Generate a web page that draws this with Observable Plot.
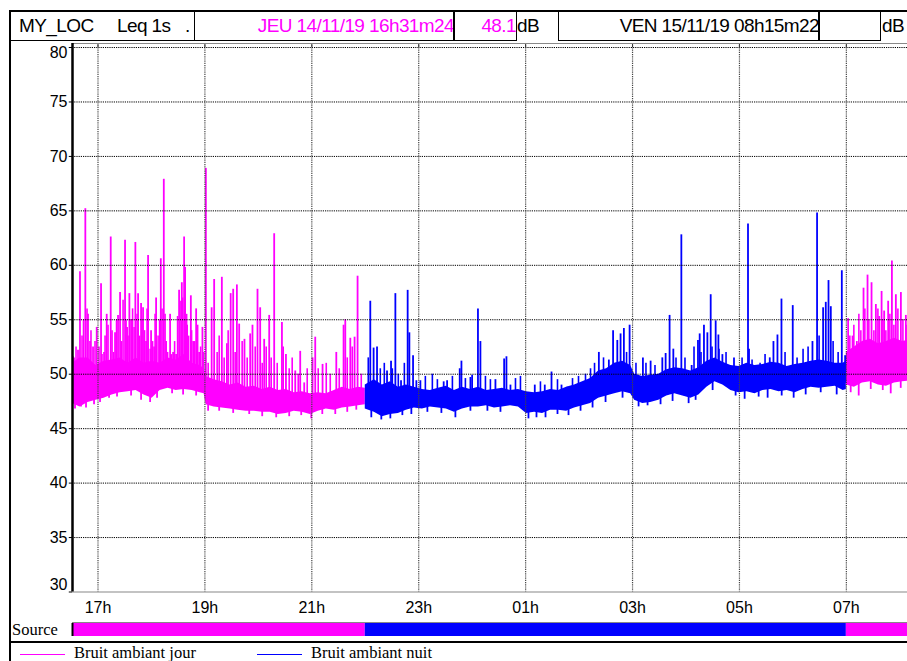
<!DOCTYPE html>
<html><head><meta charset="utf-8">
<script src="https://cdn.jsdelivr.net/npm/d3@7"></script>
<script src="https://cdn.jsdelivr.net/npm/@observablehq/plot@0.6"></script>
<style>
html,body{margin:0;padding:0;background:#fff;overflow:hidden;width:907px;height:661px;}
#wrap{position:relative;width:907px;height:661px;overflow:hidden;font-family:"Liberation Sans",Arial,sans-serif;}
.ln{position:absolute;background:#000;}
.box{position:absolute;box-sizing:border-box;top:10px;height:31px;border:1px solid #000;border-top:2px solid #000;background:#fff;overflow:hidden;}
.htxt{position:absolute;top:11px;height:30px;line-height:30px;font-size:19px;letter-spacing:-0.6px;white-space:nowrap;}
.serif{position:absolute;font-family:"Liberation Serif","Times New Roman",serif;font-size:16.5px;white-space:nowrap;}
#main{position:absolute;left:0;top:0;width:913px;}
#src{position:absolute;left:0;top:621px;width:913px;}
#main svg,#src svg{max-width:none !important;}
</style></head>
<body><div id="wrap">
<div id="main"></div>
<div id="src"></div>
<div class="ln" style="left:9px;top:10px;width:898px;height:2px;"></div>
<div class="box" style="left:9px;width:186px;border-left:2px solid #000;"></div>
<div class="htxt" style="left:19px;">MY_LOC</div>
<div class="htxt" style="left:117px;">Leq 1s</div>
<div class="htxt" style="left:185px;">.</div>
<div class="box" style="left:194px;width:260px;"></div>
<div class="htxt" style="left:194px;width:260px;text-align:right;color:#ff00ff;">JEU 14/11/19 16h31m24</div>
<div class="box" style="left:453px;width:64px;border-left:2px solid #000;"></div>
<div class="htxt" style="left:453px;width:63px;text-align:right;color:#ff00ff;">48.1</div>
<div class="htxt" style="left:517px;">dB</div>
<div class="box" style="left:558px;width:261px;"></div>
<div class="htxt" style="left:558px;width:261px;text-align:right;">VEN 15/11/19 08h15m22</div>
<div class="box" style="left:818px;width:63px;border-left:2px solid #000;"></div>
<div class="htxt" style="left:882px;">dB</div>
<div class="ln" style="left:9px;top:10px;width:2px;height:651px;"></div>
<div class="ln" style="left:9px;top:641px;width:898px;height:1.5px;"></div>
<div class="serif" style="left:12px;top:620px;">Source</div>
<div id="legend"></div>
</div>
<script>
// ---- data ----
const timeTicks = [17, 19, 21, 23, 25, 27, 29, 31];
const timeTickLabels = ["17h", "19h", "21h", "23h", "01h", "03h", "05h", "07h"];
const levelTicks = [30, 35, 40, 45, 50, 55, 60, 65, 70, 75, 80];
const startHour = 16.523;   // JEU 14/11/19 16h31m24
const endHour = 32.256;     // VEN 15/11/19 08h15m22
const periodNames = ["Bruit ambiant jour", "Bruit ambiant nuit"];
const periodStart = [16.523, 22.0, 31.0];
const periodEnd = [22.0, 31.0, 32.256];
const periodKind = [0, 1, 0];

// dense band (lower / upper envelope) — day 1
const jour1Time = [16.523,16.663,16.813,16.963,17.113,17.263,17.413,17.562,17.712,17.862,18.012,18.162,18.311,18.461,18.611,18.761,18.911,18.986,19.023,19.173,19.323,19.472,19.622,19.772,19.922,20.072,20.222,20.371,20.521,20.671,20.821,20.971,21.121,21.271,21.420,21.570,21.720,21.870,22.0];
const jour1Low = [47.3,47.0,47.4,47.6,47.8,48.1,48.3,48.4,48.5,48.1,47.8,48.5,48.7,48.5,48.6,48.5,48.3,48.2,47.2,47.0,46.9,46.8,46.7,46.6,46.6,46.5,46.5,46.3,46.4,46.6,46.5,46.3,46.6,46.8,46.7,46.9,47.0,47.1,47.2];
const jour1High = [51.0,51.5,51.5,50.8,51.2,51.3,51.5,51.0,51.5,51.0,51.2,51.0,51.5,51.3,51.8,51.0,50.8,50.5,49.8,49.5,49.3,49.0,49.2,48.8,48.9,48.6,48.8,48.5,48.6,48.3,48.4,48.2,48.3,48.2,48.5,48.8,48.6,48.8,48.7];
// night
const nuitTime = [22.0,22.169,22.319,22.469,22.619,22.768,22.918,23.068,23.218,23.368,23.518,23.668,23.818,23.968,24.117,24.267,24.417,24.567,24.717,24.866,25.016,25.166,25.316,25.466,25.616,25.765,25.915,26.065,26.215,26.364,26.514,26.664,26.814,26.964,27.04,27.19,27.34,27.49,27.64,27.79,27.94,28.09,28.24,28.39,28.54,28.69,28.84,28.99,29.14,29.29,29.44,29.59,29.74,29.89,30.04,30.19,30.34,30.49,30.64,30.79,30.94,31.0];
const nuitLow = [46.8,46.5,46.1,46.3,46.4,46.7,46.9,46.8,47.0,46.9,46.8,46.5,46.8,47.0,47.0,47.1,46.9,47.0,47.1,47.0,46.4,46.5,46.4,46.7,46.7,46.6,46.9,47.1,47.3,47.8,48.0,48.2,48.4,48.2,47.6,47.3,47.4,47.6,48.0,48.2,48.0,47.8,48.1,48.8,49.3,49.0,48.5,48.3,48.4,48.2,48.5,48.6,48.4,48.5,48.3,48.6,48.8,48.7,48.8,48.9,48.5,48.6];
const nuitHigh = [49.0,49.5,49.0,49.3,48.8,49.0,48.8,48.6,48.5,48.7,48.9,48.5,48.8,48.6,48.8,48.5,48.6,48.7,48.5,48.6,48.4,48.3,48.4,48.6,48.5,48.8,49.0,49.3,49.6,50.3,50.5,51.0,51.2,50.8,50.0,49.8,49.9,50.0,50.4,50.6,50.5,50.3,50.6,51.2,51.5,51.1,50.8,50.7,51.0,50.8,50.9,51.1,51.0,50.7,50.9,51.0,51.2,51.3,51.2,51.0,51.0,51.2];
// day 2
const jour2Time = [31.0,31.15,31.30,31.45,31.60,31.75,31.90,32.05,32.256];
const jour2Low = [49.0,48.8,49.2,49.3,49.0,48.9,49.2,49.3,49.4];
const jour2High = [52.0,52.5,53.0,53.2,52.8,53.0,53.3,53.0,53.2];

// major peaks (Leq 1s events)
const spikeTime = [16.551,16.626,16.663,16.763,16.813,16.851,16.907,16.976,17.057,17.113,17.163,17.238,17.319,17.375,17.413,17.506,17.544,17.587,17.619,17.699,17.750,17.806,17.843,17.899,17.937,17.993,18.049,18.087,18.175,18.231,18.274,18.349,18.405,18.461,18.517,18.568,18.611,18.630,18.667,18.737,18.780,18.836,18.892,18.954,
19.018,19.126,19.173,19.317,19.411,19.482,19.529,19.598,19.641,19.740,19.847,19.890,19.984,20.034,20.109,20.203,20.296,20.441,20.516,20.690,20.783,20.858,21.014,21.064,21.201,21.458,21.594,21.626,21.720,21.800,21.856,
22.094,22.156,22.220,22.407,22.482,22.563,22.669,22.793,22.825,22.894,22.956,23.031,23.467,23.531,23.767,23.799,23.967,23.999,24.108,24.154,24.435,24.598,24.641,24.716,25.171,25.358,25.484,25.671,25.778,
26.370,26.557,26.636,26.715,26.776,26.838,26.945,27.194,27.338,27.557,27.619,27.693,27.763,27.913,28.106,28.224,28.256,28.336,28.400,28.462,28.555,28.606,28.681,28.898,
29.160,29.179,29.567,29.636,29.711,29.786,29.997,30.366,30.452,30.565,30.615,30.666,30.709,30.915,30.977,
31.033,31.116,31.196,31.321,31.396,31.471,31.552,31.614,31.659,31.707,31.782,31.852,31.926,32.020,32.113];
const spikePeak = [51.5,52.2,59.4,65.2,55.5,53.0,52.5,54.3,58.3,52.0,55.5,62.6,53.8,55.4,57.5,62.3,54.3,57.4,55.0,62.1,57.4,56.5,56.1,53.0,60.9,54.0,52.5,57.0,60.6,67.9,53.0,55.5,52.0,51.8,57.7,58.4,62.6,59.8,54.5,57.2,53.0,56.0,52.0,54.3,
68.9,56.1,58.7,58.9,52.8,57.4,57.8,58.2,54.6,53.2,53.7,54.5,57.8,56.1,53.2,55.4,62.9,54.75,51.8,50.3,52.1,49.2,51.5,53.4,50.9,52.0,54.5,55.0,53.3,53.4,59.0,
56.7,52.4,52.5,50.3,51.2,57.4,49.4,57.7,53.8,51.7,49.4,49.4,49.3,49.4,50.5,51.2,49.7,49.9,56.0,53.0,49.5,51.4,51.6,49.0,49.0,49.0,50.2,49.0,48.8,
52.0,51.3,54.0,53.1,53.7,54.2,54.5,51.5,51.2,51.5,51.9,55.4,52.3,62.8,50.8,53.1,53.7,54.5,53.8,57.3,54.9,53.6,51.8,51.5,
63.8,52.3,51.5,53.0,53.6,56.9,56.3,53.0,64.8,56.1,56.6,58.6,56.2,59.5,51.7,
55.1,53.5,53.0,57.9,59.1,58.4,56.4,55.3,57.6,55.8,56.7,60.4,57.3,57.5,55.4];

// minor peaks (dense texture of the trace)
const minorTime = [16.532,16.589,16.701,16.729,16.795,16.869,16.944,17.019,17.075,17.132,17.188,17.263,17.291,17.347,17.441,17.469,17.525,17.562,17.647,17.675,17.731,17.778,17.824,17.871,17.918,17.975,18.021,18.068,18.124,18.152,18.199,18.255,18.302,18.377,18.433,18.489,18.536,18.583,18.658,18.695,18.751,18.808,18.864,18.920,18.976,
19.061,19.229,19.267,19.360,19.435,19.566,19.697,19.791,19.941,20.072,20.147,20.240,20.353,20.465,20.577,20.633,20.746,20.914,21.120,21.270,21.345,21.513,21.663,21.757,21.925,
22.056,22.281,22.356,22.506,22.618,22.731,23.124,23.255,23.349,23.630,23.873,24.248,24.341,24.810,24.903,25.277,25.596,25.877,25.989,26.120,26.214,26.289,26.457,26.888,
27.064,27.251,27.420,27.813,27.981,28.150,28.281,28.487,28.618,28.749,29.049,29.236,29.386,29.479,29.853,30.078,30.190,30.284,30.490,30.752,30.846,
31.065,31.140,31.234,31.271,31.346,31.421,31.515,31.590,31.683,31.739,31.814,31.889,31.964,32.058,32.133];
const minorPeak = [51.6,52.5,53.5,55.0,56.0,54.0,53.0,52.5,51.8,53.5,54.5,54.0,52.0,55.0,53.0,56.8,55.0,53.5,56.0,54.3,55.5,53.5,55.0,54.0,56.0,52.3,53.0,55.5,53.5,55.0,56.0,55.5,52.0,51.8,53.0,55.3,56.7,57.0,55.5,53.5,54.0,53.0,54.5,52.5,52.0,
51.0,52.0,53.5,51.5,54.0,52.0,53.0,51.5,52.5,51.0,52.5,51.5,51.0,52.5,50.5,51.5,50.0,50.5,50.5,51.0,50.0,50.5,51.5,52.5,50.0,
51.5,50.5,51.0,50.5,50.0,51.0,49.8,50.0,49.5,49.8,49.6,49.8,49.5,49.6,49.8,49.3,49.5,49.6,49.8,50.0,50.5,51.0,51.5,52.0,
51.0,51.0,50.8,51.5,51.5,52.5,52.0,52.5,52.3,52.0,51.5,51.3,51.0,51.8,52.0,51.5,52.3,52.5,53.5,53.0,52.0,
53.5,54.5,55.5,54.0,56.0,55.0,54.0,56.0,55.0,54.0,55.5,54.5,56.0,55.0,54.5];

// lowest readings (dips below the dense band)
const dipTime = [16.570,16.682,16.776,16.926,17.038,17.207,17.356,17.619,17.806,17.975,18.105,18.386,18.592,18.836,
19.060,19.267,19.529,19.829,20.072,20.334,20.577,20.802,20.990,21.196,21.439,21.663,21.832,
22.113,22.300,22.469,22.694,22.862,23.162,23.424,23.686,23.967,24.285,24.529,25.053,25.203,25.372,25.596,25.802,26.027,26.252,26.495,26.813,
27.113,27.281,27.524,27.749,28.049,28.180,28.498,28.928,29.097,29.359,29.527,29.790,30.014,30.239,30.520,30.819,
31.081,31.231,31.456,31.681,31.830,32.017];
const dipLevel = [46.8,47.0,46.9,47.2,47.4,47.8,47.9,48.0,47.6,47.4,47.8,48.2,48.1,48.0,
46.6,46.6,46.4,46.3,46.1,46.0,46.1,46.2,45.9,46.3,46.3,46.5,46.7,
46.0,45.8,45.9,46.2,46.3,46.5,46.4,46.0,46.6,46.6,46.5,45.9,46.0,46.0,46.3,46.2,46.6,46.9,47.4,47.8,
47.0,47.1,47.2,47.5,47.3,47.6,48.5,48.0,47.7,47.9,47.8,48.0,47.8,48.1,48.3,48.1,
48.3,48.0,48.6,48.5,48.2,48.7];

// ---- build ----
const colors = ["#ff00ff", "#0000ff"];
const rows = (t, lo, hi) => t.map((d, i) => ({t: d, lo: lo[i], hi: hi[i]}));
const jour1 = rows(jour1Time, jour1Low, jour1High);
const nuit = rows(nuitTime, nuitLow, nuitHigh);
const jour2 = rows(jour2Time, jour2Low, jour2High);
const allBand = [...jour1, ...nuit.slice(1), ...jour2.slice(1)];
const bis = d3.bisector(d => d.t).left;
function lowAt(t) {
  const i = Math.max(1, Math.min(allBand.length - 1, bis(allBand, t)));
  const a = allBand[i - 1], b = allBand[i];
  const f = (t - a.t) / (b.t - a.t);
  return a.lo + (b.lo - a.lo) * f + 0.6;
}
function kindAt(t) {
  for (let k = 0; k < periodStart.length; k++) if (t >= periodStart[k] && t < periodEnd[k]) return periodKind[k];
  return 0;
}
const spikes = spikeTime.map((t, i) => ({t, peak: spikePeak[i], base: lowAt(t), kind: kindAt(t)}));
const minors = minorTime.map((t, i) => ({t, peak: minorPeak[i], base: lowAt(t), kind: kindAt(t)}));
const dips = dipTime.map((t, i) => ({t, low: dipLevel[i], top: lowAt(t) + 0.5, kind: kindAt(t)}));

const yTop = 80.37;
const main = Plot.plot({
  width: 913, height: 620,
  marginLeft: 72, marginRight: 0, marginTop: 43, marginBottom: 28.5,
  x: {domain: [startHour, endHour], axis: null},
  y: {domain: [30, yTop], axis: null},
  style: {fontFamily: "'Liberation Sans', Arial, sans-serif", fontSize: "16px", background: "transparent", overflow: "visible", color: "#000", maxWidth: "none"},
  marks: [
    Plot.areaY(jour1, {x: "t", y1: "lo", y2: "hi", fill: colors[0]}),
    Plot.areaY(nuit, {x: "t", y1: "lo", y2: "hi", fill: colors[1]}),
    Plot.areaY(jour2, {x: "t", y1: "lo", y2: "hi", fill: colors[0]}),
    Plot.ruleX(dips, {x: "t", y1: "low", y2: "top", stroke: d => colors[d.kind], strokeWidth: 1.8}),
    Plot.ruleX(minors, {x: "t", y1: "base", y2: "peak", stroke: d => colors[d.kind], strokeWidth: 1.6}),
    Plot.ruleX(spikes, {x: "t", y1: "base", y2: "peak", stroke: d => colors[d.kind], strokeWidth: 1.8}),
    Plot.ruleY(levelTicks.filter(v => v > 30), {stroke: "#000", strokeDasharray: "1.2,1", strokeWidth: 1}),
    Plot.ruleX(timeTicks, {stroke: "#444", strokeDasharray: "1.2,1", strokeWidth: 1.2}),
    Plot.ruleX(timeTicks, {y1: 80, y2: yTop, stroke: "#333"}),
    Plot.ruleY([yTop], {stroke: "#888", strokeWidth: 1}),
    Plot.ruleY([30], {stroke: "#888", strokeWidth: 1.2}),
    Plot.ruleX([startHour], {stroke: "#000", strokeWidth: 2.5}),
    Plot.ruleY(levelTicks, {x1: startHour - 0.06, x2: startHour, stroke: "#000"}),
    Plot.text(levelTicks.filter(v => v > 30 && v < 80), {x: startHour, y: d => d, dx: -5, textAnchor: "end", fontSize: 16, text: d => String(d)}),
    Plot.text([80], {x: startHour, y: d => d, dx: -5, dy: 5, textAnchor: "end", fontSize: 16, text: d => String(d)}),
    Plot.text([30], {x: startHour, y: d => d, dx: -5, dy: -7, textAnchor: "end", fontSize: 16, text: d => String(d)}),
    Plot.text(timeTicks, {x: d => d, y: 30, dy: 16, fontSize: 16, text: (d, i) => timeTickLabels[i]})
  ]
});
document.getElementById("main").appendChild(main);

const periods = periodStart.map((s, i) => ({s, e: periodEnd[i], kind: periodKind[i]}));
const src = Plot.plot({
  width: 913, height: 16,
  marginLeft: 72, marginRight: 0, marginTop: 2, marginBottom: 1,
  x: {domain: [startHour, endHour], axis: null},
  y: {domain: [0, 1], axis: null},
  style: {background: "transparent", overflow: "visible", maxWidth: "none"},
  marks: [
    Plot.rect(periods, {x1: "s", x2: "e", y1: 0, y2: 1, fill: d => colors[d.kind]}),
    Plot.ruleY([1], {stroke: "#888", dy: -1}),
    Plot.ruleX([startHour], {stroke: "#000", strokeWidth: 2})
  ]
});
document.getElementById("src").appendChild(src);

// legend
const leg = document.getElementById("legend");
const legX = [20, 257];
periodNames.forEach((name, i) => {
  const l = document.createElement("div");
  l.className = "ln";
  l.style.cssText = `left:${legX[i]}px;top:653.5px;width:45px;height:1.5px;background:${colors[i]}`;
  leg.appendChild(l);
  const t = document.createElement("div");
  t.className = "serif";
  t.style.cssText = `left:${legX[i] + 54}px;top:643px;`;
  t.textContent = name;
  leg.appendChild(t);
});
</script>
</body></html>
